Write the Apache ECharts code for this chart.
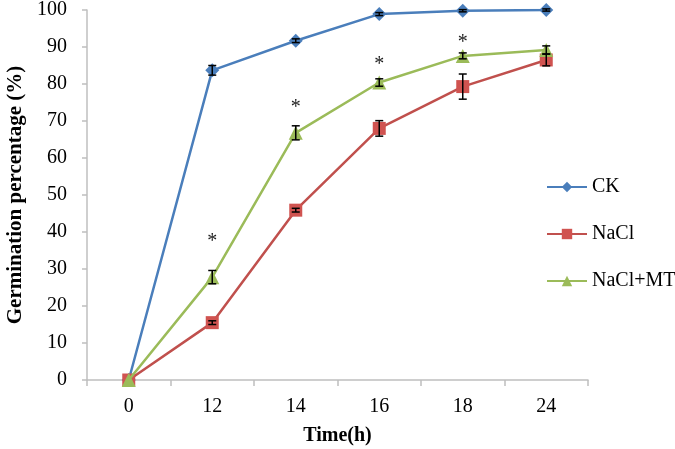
<!DOCTYPE html>
<html><head><meta charset="utf-8">
<script src="https://cdn.jsdelivr.net/npm/echarts@6/dist/echarts.min.js"></script>
<style>html,body{margin:0;padding:0;background:#fff}#c{width:675px;height:449px}</style>
</head><body><div id="c"></div>
<script>
const categories = ['0','12','14','16','18','24'];
const ck = [0, 83.7, 91.7, 98.9, 99.8, 100];
const ckErr = [0, 1.3, 0.5, 0.4, 0.3, 0.3];
const nacl = [0, 15.5, 45.9, 68.0, 79.3, 86.5];
const naclErr = [0, 0.5, 0.5, 2.1, 3.4, 1.6];
const naclmt = [0, 27.8, 66.8, 80.4, 87.6, 89.2];
const naclmtErr = [0, 1.8, 1.9, 1.0, 0.8, 1.1];
const sigIdx = [1, 2, 3, 4];
const sigY = [37.5, 73.5, 85.2, 91.2];

const FONT = '"Liberation Serif", "Times New Roman", serif';
function errData(vals, errs){
  return vals.map((v,i)=>[i, v-errs[i], v+errs[i]]).filter(d=>d[2]-d[1]>0);
}
function errSeries(vals, errs, z){
  return {
    type:'custom', silent:true, z:z,
    data: errData(vals, errs),
    renderItem: function(params, api){
      const x = api.value(0);
      const lo = api.coord([x, api.value(1)]);
      const hi = api.coord([x, api.value(2)]);
      const w = 4;
      const st = {stroke:'#000', lineWidth:1.5};
      return {type:'group', children:[
        {type:'line', shape:{x1:lo[0],y1:lo[1],x2:hi[0],y2:hi[1]}, style:st},
        {type:'line', shape:{x1:lo[0]-w,y1:lo[1],x2:lo[0]+w,y2:lo[1]}, style:st},
        {type:'line', shape:{x1:hi[0]-w,y1:hi[1],x2:hi[0]+w,y2:hi[1]}, style:st}
      ]};
    }
  };
}
const chart = echarts.init(document.getElementById('c'));
chart.setOption({
  animation:false,
  backgroundColor:'#fff',
  textStyle:{fontFamily:FONT},
  grid:{left:87, right:87, top:10, bottom:69, containLabel:false, outerBoundsMode:'none'},
  legend:{
    orient:'vertical', left:541, top:172, itemGap:27, itemWidth:40, itemHeight:13,
    textStyle:{fontFamily:FONT, fontSize:20, color:'#000'},
    data:['CK','NaCl','NaCl+MT']
  },
  xAxis:{
    type:'category', data:categories, boundaryGap:true,
    name:'Time(h)', nameLocation:'middle', nameGap:46,
    nameTextStyle:{fontFamily:FONT, fontWeight:'bold', fontSize:20, color:'#000'},
    axisLine:{lineStyle:{color:'#bfbfbf', width:1.5}},
    axisTick:{show:true, length:6, lineStyle:{color:'#bfbfbf', width:1.5}},
    axisLabel:{fontFamily:FONT, fontSize:20, color:'#000', margin:17}
  },
  yAxis:{
    type:'value', min:0, max:100, interval:10,
    name:'Germination percentage (%)', nameLocation:'middle', nameGap:53,
    nameTextStyle:{fontFamily:FONT, fontWeight:'bold', fontSize:21, color:'#000'},
    axisLine:{show:true, lineStyle:{color:'#bfbfbf', width:1.5}},
    axisTick:{show:true, length:5, lineStyle:{color:'#bfbfbf', width:1.5}},
    splitLine:{show:false},
    axisLabel:{fontFamily:FONT, fontSize:20, color:'#000', margin:20}
  },
  series:[
    {name:'CK', type:'line', data:ck, symbol:'diamond', symbolSize:14,
     color:'#4a7ebb', lineStyle:{width:2.5, color:'#4a7ebb'}, itemStyle:{color:'#4a7ebb'}, z:3},
    {name:'NaCl', type:'line', data:nacl, symbol:'rect', symbolSize:13,
     color:'#c0504d', lineStyle:{width:2.5, color:'#c0504d'}, itemStyle:{color:'#d05350'}, z:3},
    {name:'NaCl+MT', type:'line', data:naclmt, symbol:'triangle', symbolSize:14,
     color:'#9bbb59', lineStyle:{width:2.5, color:'#9bbb59'}, itemStyle:{color:'#9bbb59'}, z:4},
    errSeries(ck, ckErr, 5),
    errSeries(nacl, naclErr, 5),
    errSeries(naclmt, naclmtErr, 5),
    {type:'custom', silent:true, z:6,
     data: sigIdx.map((i,k)=>[i, sigY[k]]),
     renderItem: function(params, api){
       const p = api.coord([api.value(0), api.value(1)]);
       return {type:'text', x:p[0], y:p[1],
         style:{text:'*', x:0, y:0, align:'center', verticalAlign:'middle',
                font:'20px "Liberation Serif", serif', fill:'#222'}};
     }}
  ]
});
</script></body></html>
